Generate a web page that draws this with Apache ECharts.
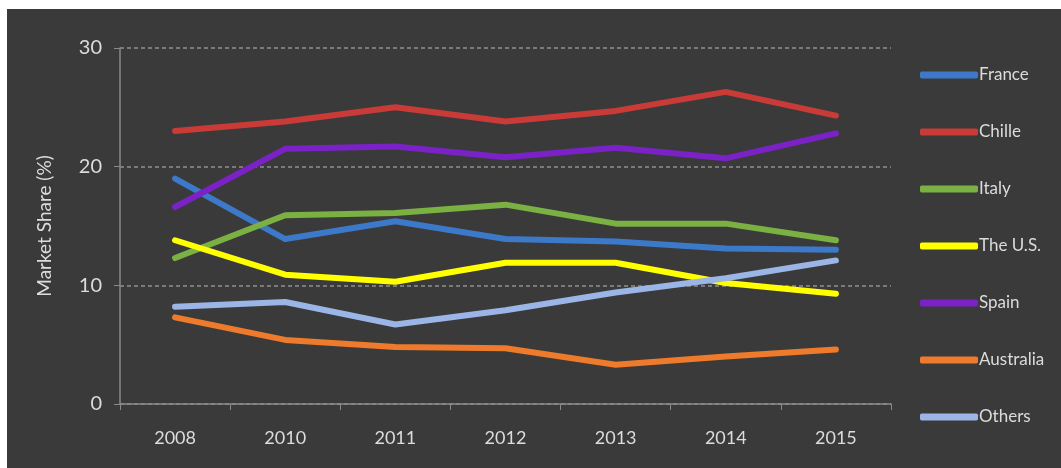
<!DOCTYPE html>
<html>
<head>
<meta charset="utf-8">
<script src="https://cdn.jsdelivr.net/npm/echarts@6/dist/echarts.min.js"></script>
<style>
  html, body { margin: 0; padding: 0; background: #fff; }
  #chart { position: absolute; left: 7px; top: 9px; width: 1054px; height: 459px; }
</style>
</head>
<body>
<div id="chart"></div>
<script>
// data
const years = ['2008', '2010', '2011', '2012', '2013', '2014', '2015'];
const france = [19.0, 13.9, 15.4, 13.9, 13.7, 13.1, 13.0];
const chille = [23.0, 23.8, 25.0, 23.8, 24.7, 26.3, 24.3];
const italy = [12.3, 15.9, 16.1, 16.8, 15.2, 15.2, 13.8];
const theUS = [13.8, 10.9, 10.3, 11.9, 11.9, 10.2, 9.3];
const spain = [16.6, 21.5, 21.7, 20.8, 21.6, 20.7, 22.8];
const australia = [7.3, 5.4, 4.8, 4.7, 3.3, 4.0, 4.6];
const others = [8.2, 8.6, 6.7, 7.9, 9.4, 10.6, 12.1];

const names = ['France', 'Chille', 'Italy', 'The U.S.', 'Spain', 'Australia', 'Others'];
const colors = ['#3d79c9', '#c93b37', '#7bb043', '#ffff00', '#7a22c6', '#ee7b2c', '#9bb6e6'];
const values = [france, chille, italy, theUS, spain, australia, others];

const chart = echarts.init(document.getElementById('chart'));
const fontFamily = 'Lato, "Open Sans", sans-serif';

chart.setOption({
    backgroundColor: '#3a3a3a',
    animation: false,
    color: colors,
    textStyle: { fontFamily: fontFamily },
    grid: { left: 113, right: 170, top: 39, bottom: 64 },
    legend: {
        orient: 'vertical',
        left: 908,
        top: 52,
        itemWidth: 58,
        itemHeight: 7,
        itemGap: 39,
        textStyle: { color: '#dcdcdc', fontSize: 17, lineHeight: 18, padding: [0, 0, 0, -4] },
        data: names.map(n => ({ name: n, icon: 'roundRect' }))
    },
    xAxis: {
        type: 'category',
        data: years,
        boundaryGap: true,
        axisLine: { lineStyle: { color: '#8a8a8a', width: 1.5 } },
        axisTick: { show: true, length: 6, lineStyle: { color: '#8a8a8a' } },
        axisLabel: { color: '#dcdcdc', fontSize: 18, margin: 25 }
    },
    yAxis: {
        type: 'value',
        min: 0,
        max: 30,
        interval: 10,
        name: 'Market Share (%)',
        nameLocation: 'middle',
        nameGap: 66,
        nameTextStyle: { color: '#dcdcdc', fontSize: 19 },
        axisLine: { show: true, lineStyle: { color: '#8a8a8a', width: 1.5 } },
        axisTick: { show: true, length: 6, lineStyle: { color: '#8a8a8a' } },
        axisLabel: { color: '#dcdcdc', fontSize: 20, margin: 18 },
        splitLine: { lineStyle: { color: '#7a7a7a', type: [4, 3], width: 2 } }
    },
    series: names.map((n, i) => ({
        name: n,
        type: 'line',
        data: values[i],
        symbol: 'none',
        lineStyle: { width: 6, color: colors[i], cap: 'round', join: 'round' },
        itemStyle: { color: colors[i] }
    }))
});
</script>
</body>
</html>
